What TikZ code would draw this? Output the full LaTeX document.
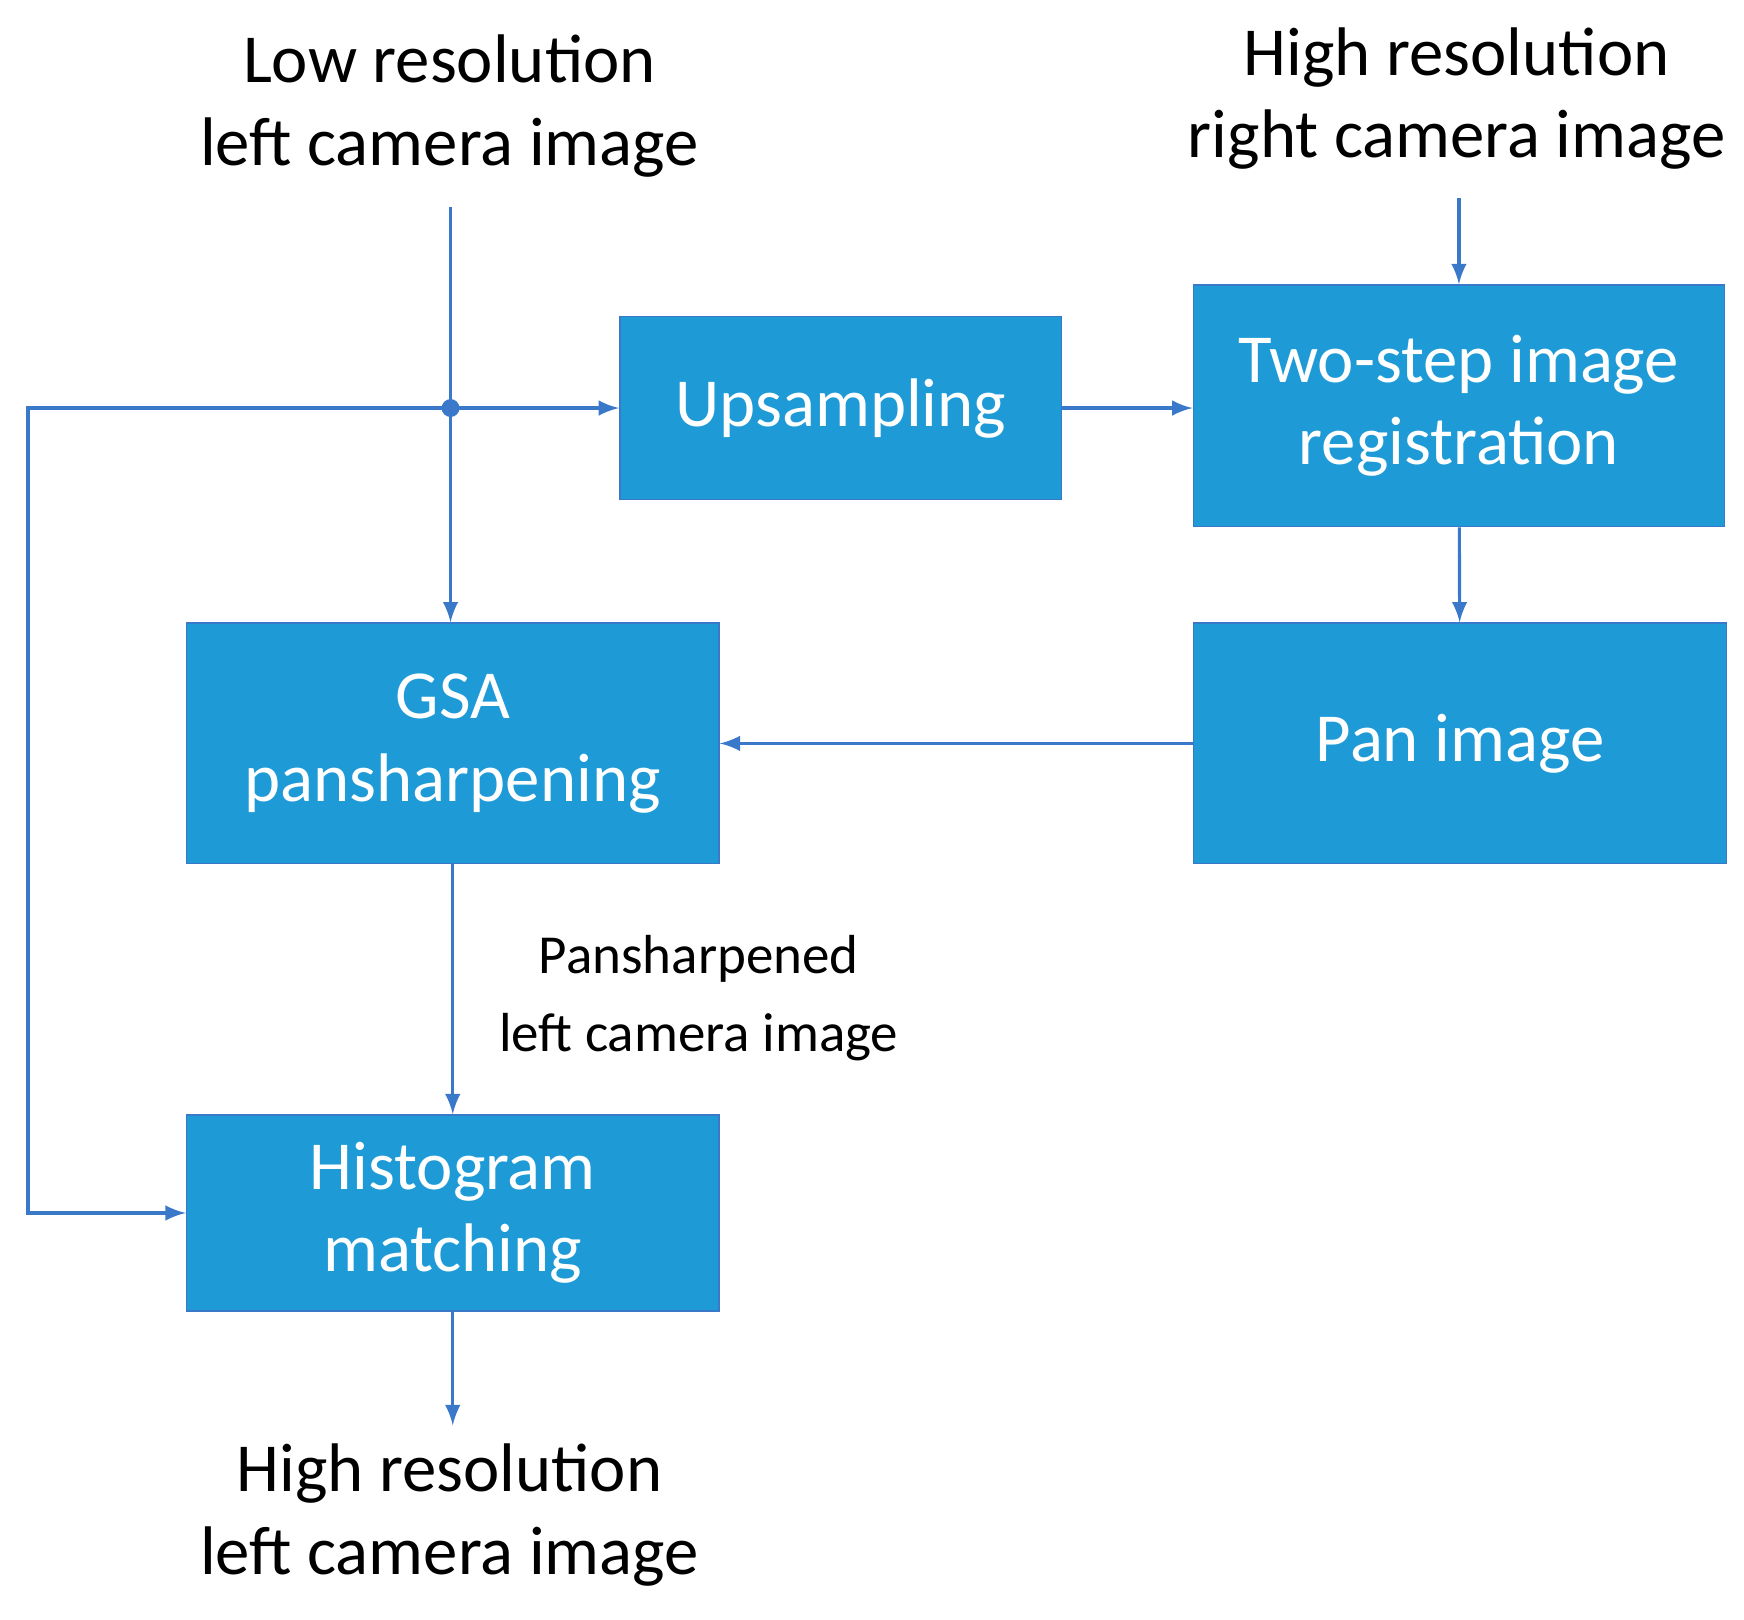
\documentclass[tikz,border=0pt]{standalone}
\usepackage{fontspec}
\setmainfont{Carlito}
\usetikzlibrary{positioning}
\definecolor{boxblue}{HTML}{1E9BD7}
\definecolor{lineblue}{HTML}{3A78C9}
\tikzstyle{block} = [rectangle, draw=lineblue, fill=boxblue, text=white, align=center, font=\fontsize{17.5}{21}\selectfont, inner sep=0pt]
\tikzstyle{label} = [align=center, font=\fontsize{17.5}{21}\selectfont]
\tikzstyle{arrow} = [draw=lineblue, line width=0.8pt, ->, >=latex]
\begin{document}
\begin{tikzpicture}[x=0.1mm, y=-0.1mm]
        \useasboundingbox (0,0) rectangle (1560,1449);
        \node (lowres) [label] at (402,95) {Low resolution\\left camera image};
        \node (highright) [label] at (1303,88) {High resolution\\right camera image};
        \node (upsampling) [block, minimum width=3.95cm, minimum height=1.64cm] at (752,365) {Upsampling};
        \node (register) [block, minimum width=4.75cm, minimum height=2.16cm] at (1305,363) {Two-step image\\registration};
        \node (pan) [block, minimum width=4.77cm, minimum height=2.15cm] at (1306,665) {Pan image};
        \node (gsa) [block, minimum width=4.76cm, minimum height=2.15cm] at (405,665) {GSA\\pansharpening};
        \node (histogram) [block, minimum width=4.76cm, minimum height=1.75cm] at (405,1085) {Histogram\\matching};
        \node (highleft) [label] at (402,1355) {High resolution\\left camera image};
        \node (pslabel) [align=center, font=\fontsize{14}{20}\selectfont] at (625,893) {Pansharpened\\left camera image};
        \coordinate (split) at (403,365);
        \coordinate (loop) at (25,365);

        \fill [lineblue] (split) circle (8);
        \draw [arrow] (403,185) -- (gsa.north -| split);
        \draw [arrow] (split) -- (upsampling);
        \draw [arrow] (upsampling) -- (upsampling.east -| register.west);
        \draw [arrow] (1305,177) -- (register.north);
        \draw [arrow] (register) -- (pan);
        \draw [arrow] (pan) -- (gsa);
        \draw [arrow] (gsa) -- (histogram);
        \draw [arrow] (split) -- (loop) |- (histogram.west);
        \draw [arrow] (histogram) -- (405,1275);
\end{tikzpicture}
\end{document}
